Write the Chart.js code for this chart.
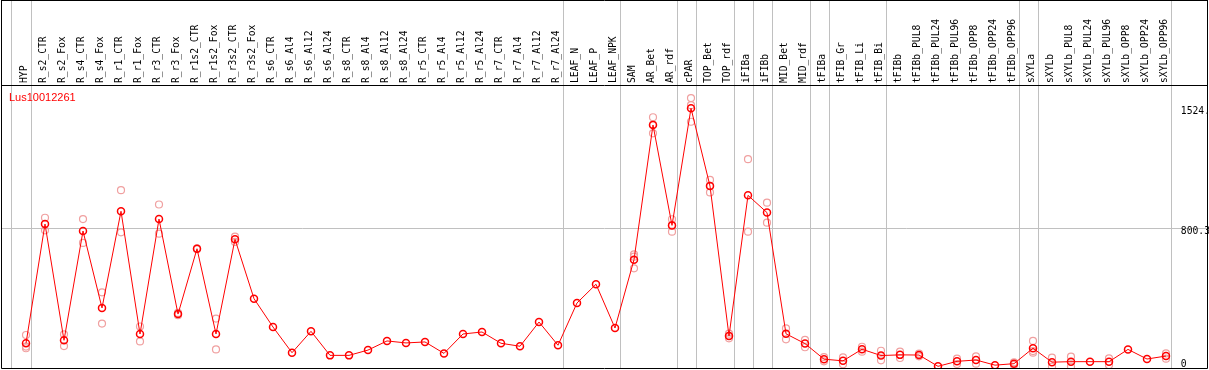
<!DOCTYPE html>
<html>
<head>
<meta charset="utf-8">
<script src="https://cdn.jsdelivr.net/npm/chart.js@4/dist/chart.umd.min.js"></script>
<style>
  html, body { margin: 0; padding: 0; background: #fff; }
  canvas { display: block; }
</style>
</head>
<body>
<canvas id="geneChart" width="1209" height="370"></canvas>
<script>
const geneId = 'Lus10012261';

const categories = [
  'HYP', 'R_s2_CTR', 'R_s2_Fox', 'R_s4_CTR', 'R_s4_Fox', 'R_r1_CTR', 'R_r1_Fox',
  'R_r3_CTR', 'R_r3_Fox', 'R_r1s2_CTR', 'R_r1s2_Fox', 'R_r3s2_CTR', 'R_r3s2_Fox',
  'R_s6_CTR', 'R_s6_Al4', 'R_s6_Al12', 'R_s6_Al24', 'R_s8_CTR', 'R_s8_Al4',
  'R_s8_Al12', 'R_s8_Al24', 'R_r5_CTR', 'R_r5_Al4', 'R_r5_Al12', 'R_r5_Al24',
  'R_r7_CTR', 'R_r7_Al4', 'R_r7_Al12', 'R_r7_Al24', 'LEAF_N', 'LEAF_P', 'LEAF_NPK',
  'SAM', 'AR_Bet', 'AR_rdf', 'cPAR', 'TOP_Bet', 'TOP_rdf', 'iFIBa', 'iFIBb',
  'MID_Bet', 'MID_rdf', 'tFIBa', 'tFIB_Gr', 'tFIB_Li', 'tFIB_Bi', 'tFIBb',
  'tFIBb_PUL8', 'tFIBb_PUL24', 'tFIBb_PUL96', 'tFIBb_OPP8', 'tFIBb_OPP24', 'tFIBb_OPP96',
  'sXYLa', 'sXYLb', 'sXYLb_PUL8', 'sXYLb_PUL24', 'sXYLb_PUL96', 'sXYLb_OPP8',
  'sXYLb_OPP24', 'sXYLb_OPP96'
];

// mean expression per sample
const meanValues = [
  107, 826, 125, 784, 320, 903, 163, 856, 283, 677, 163, 734, 376,
  205, 50, 179, 34, 34, 66, 121, 109, 115, 46, 163, 175, 107, 89, 235, 95,
  350, 463, 199,
  611, 1423, 818, 1524, 1055, 151, 999, 895, 164, 105,
  11, 1, 71, 33, 37, 36, -32, -2, 6, -25, -16,
  77, -7, -4, -4, -4, 70, 12, 30
];

// individual replicates (null = none shown)
const rep1 = [
  157, 864, 161, 856, 414, 1030, 208, 944, 290, 680, 256, 750, null,
  null, null, null, null, null, null, null, null, null, null, null, null, null, null, null, null,
  null, null, null,
  643, 1470, 855, 1586, 1092, 165, 1217, 955, 197, 127,
  24, 22, 86, 62, 56, 44, null, 14, 28, null, -8,
  121, 20, 26, null, 16, null, null, 46
];
const rep2 = [
  87, 788, 90, 712, 226, 776, 118, 768, 276, 674, 70, 718, null,
  null, null, null, null, null, null, null, null, null, null, null, null, null, null, null, null,
  null, null, null,
  629, 1426, 819, 1543, 1056, 151, 780, 834, 131, 83,
  -2, -20, 56, 4, 18, 28, null, -18, -16, null, -24,
  60, -34, -34, null, -24, null, null, 14
];
const rep3 = [
  77, null, null, null, null, null, null, null, null, null, null, null, null,
  null, null, null, null, null, null, null, null, null, null, null, null, null, null, null, null,
  null, null, null,
  559, 1373, 780, 1443, 1017, 137, null, null, null, null,
  null, null, null, null, null, null, null, null, null, null, null,
  50, null, null, null, null, null, null, null
];

const yTickValues = [0, 800.3, 1524];
const yTickLabels = ['0', '800.3', '1524.'];

// last sample index of each tissue group (vertical separators)
const groupEnds = [-1, 0, 28, 31, 34, 35, 37, 38, 39, 41, 42, 45, 52, 53, 60];

function toPoints(values) {
  const pts = [];
  values.forEach((v, i) => { if (v !== null) pts.push({ x: i, y: v }); });
  return pts;
}

const framePlugin = {
  id: 'frame',
  beforeDatasetsDraw(chart) {
    const { ctx, chartArea, scales } = chart;
    ctx.save();
    ctx.strokeStyle = '#c0c0c0';
    ctx.lineWidth = 1;
    groupEnds.forEach(g => {
      const off = g < 0 ? 0.2 : 0.25;
      const x = Math.round(scales.x.getPixelForValue(g + off)) + 0.5;
      ctx.beginPath();
      ctx.moveTo(x, 0);
      ctx.lineTo(x, chartArea.bottom);
      ctx.stroke();
    });
    ctx.restore();
  },
  afterDraw(chart) {
    const { ctx, chartArea } = chart;
    const l = chartArea.left + 0.5, r = chartArea.right - 0.5;
    const t = chartArea.top + 0.5, b = chartArea.bottom - 0.5;
    ctx.save();
    ctx.strokeStyle = '#000';
    ctx.lineWidth = 1;
    ctx.beginPath();
    ctx.moveTo(l, 0.5); ctx.lineTo(r, 0.5);
    ctx.moveTo(l, 0); ctx.lineTo(l, b);
    ctx.moveTo(r, 0); ctx.lineTo(r, b);
    ctx.moveTo(l, t); ctx.lineTo(r, t);
    ctx.moveTo(l, b); ctx.lineTo(r, b);
    ctx.stroke();
    ctx.fillStyle = '#ff0000';
    ctx.font = '11px "Liberation Sans", Arial, sans-serif';
    ctx.textBaseline = 'alphabetic';
    ctx.fillText(geneId, 9, 101);
    ctx.restore();
  }
};

const chart = new Chart(document.getElementById('geneChart'), {
  type: 'scatter',
  data: {
    datasets: [
      {
        label: 'mean',
        data: toPoints(meanValues),
        showLine: true,
        borderColor: '#ff0000',
        borderWidth: 1,
        pointRadius: 3.5,
        pointBorderWidth: 1.5,
        pointBorderColor: '#ff0000',
        pointBackgroundColor: 'rgba(0,0,0,0)'
      },
      {
        label: 'replicates',
        data: toPoints(rep1).concat(toPoints(rep2), toPoints(rep3)),
        showLine: false,
        pointRadius: 3.5,
        pointBorderWidth: 1.2,
        pointBorderColor: '#f0a0a0',
        pointBackgroundColor: 'rgba(0,0,0,0)'
      }
    ]
  },
  options: {
    responsive: false,
    animation: false,
    devicePixelRatio: 1,
    layout: { autoPadding: false, padding: { left: 1, right: 1, top: 0, bottom: 1 } },
    plugins: {
      legend: { display: false },
      tooltip: { enabled: false },
      title: { display: false }
    },
    scales: {
      x: {
        type: 'linear',
        position: 'top',
        min: -25 / 19,
        max: -25 / 19 + 1207 / 19,
        afterBuildTicks: scale => { scale.ticks = categories.map((c, i) => ({ value: i })); },
        afterFit: scale => {
          scale.height = 85;
          scale.paddingLeft = 0;
          scale.paddingRight = 0;
        },
        grid: { display: false, drawTicks: false },
        border: { display: false },
        ticks: {
          autoSkip: false,
          minRotation: 90,
          maxRotation: 90,
          padding: 2,
          labelOffset: 10.5,
          color: '#000',
          font: { family: '"DejaVu Sans Mono", monospace', size: 9.7 },
          callback: v => categories[v]
        }
      },
      y: {
        type: 'linear',
        position: 'right',
        min: -48.2,
        max: 1664.6,
        afterBuildTicks: scale => { scale.ticks = yTickValues.map(v => ({ value: v })); },
        afterFit: scale => {
          scale.width = 0;
          scale.paddingTop = 0;
          scale.paddingBottom = 0;
        },
        grid: {
          drawTicks: false,
          color: c => (c.tick && c.tick.value === 800.3 ? '#c0c0c0' : 'rgba(0,0,0,0)')
        },
        border: { display: false },
        ticks: {
          mirror: true,
          padding: 2,
          labelOffset: 3,
          color: '#000',
          font: { family: '"DejaVu Sans Mono", monospace', size: 9.7 },
          // labels sit left-aligned in the reference; pad to equal width
          callback: (v, i) => yTickLabels[i].padEnd(5, ' ')
        }
      }
    }
  },
  plugins: [framePlugin]
});
</script>
</body>
</html>
